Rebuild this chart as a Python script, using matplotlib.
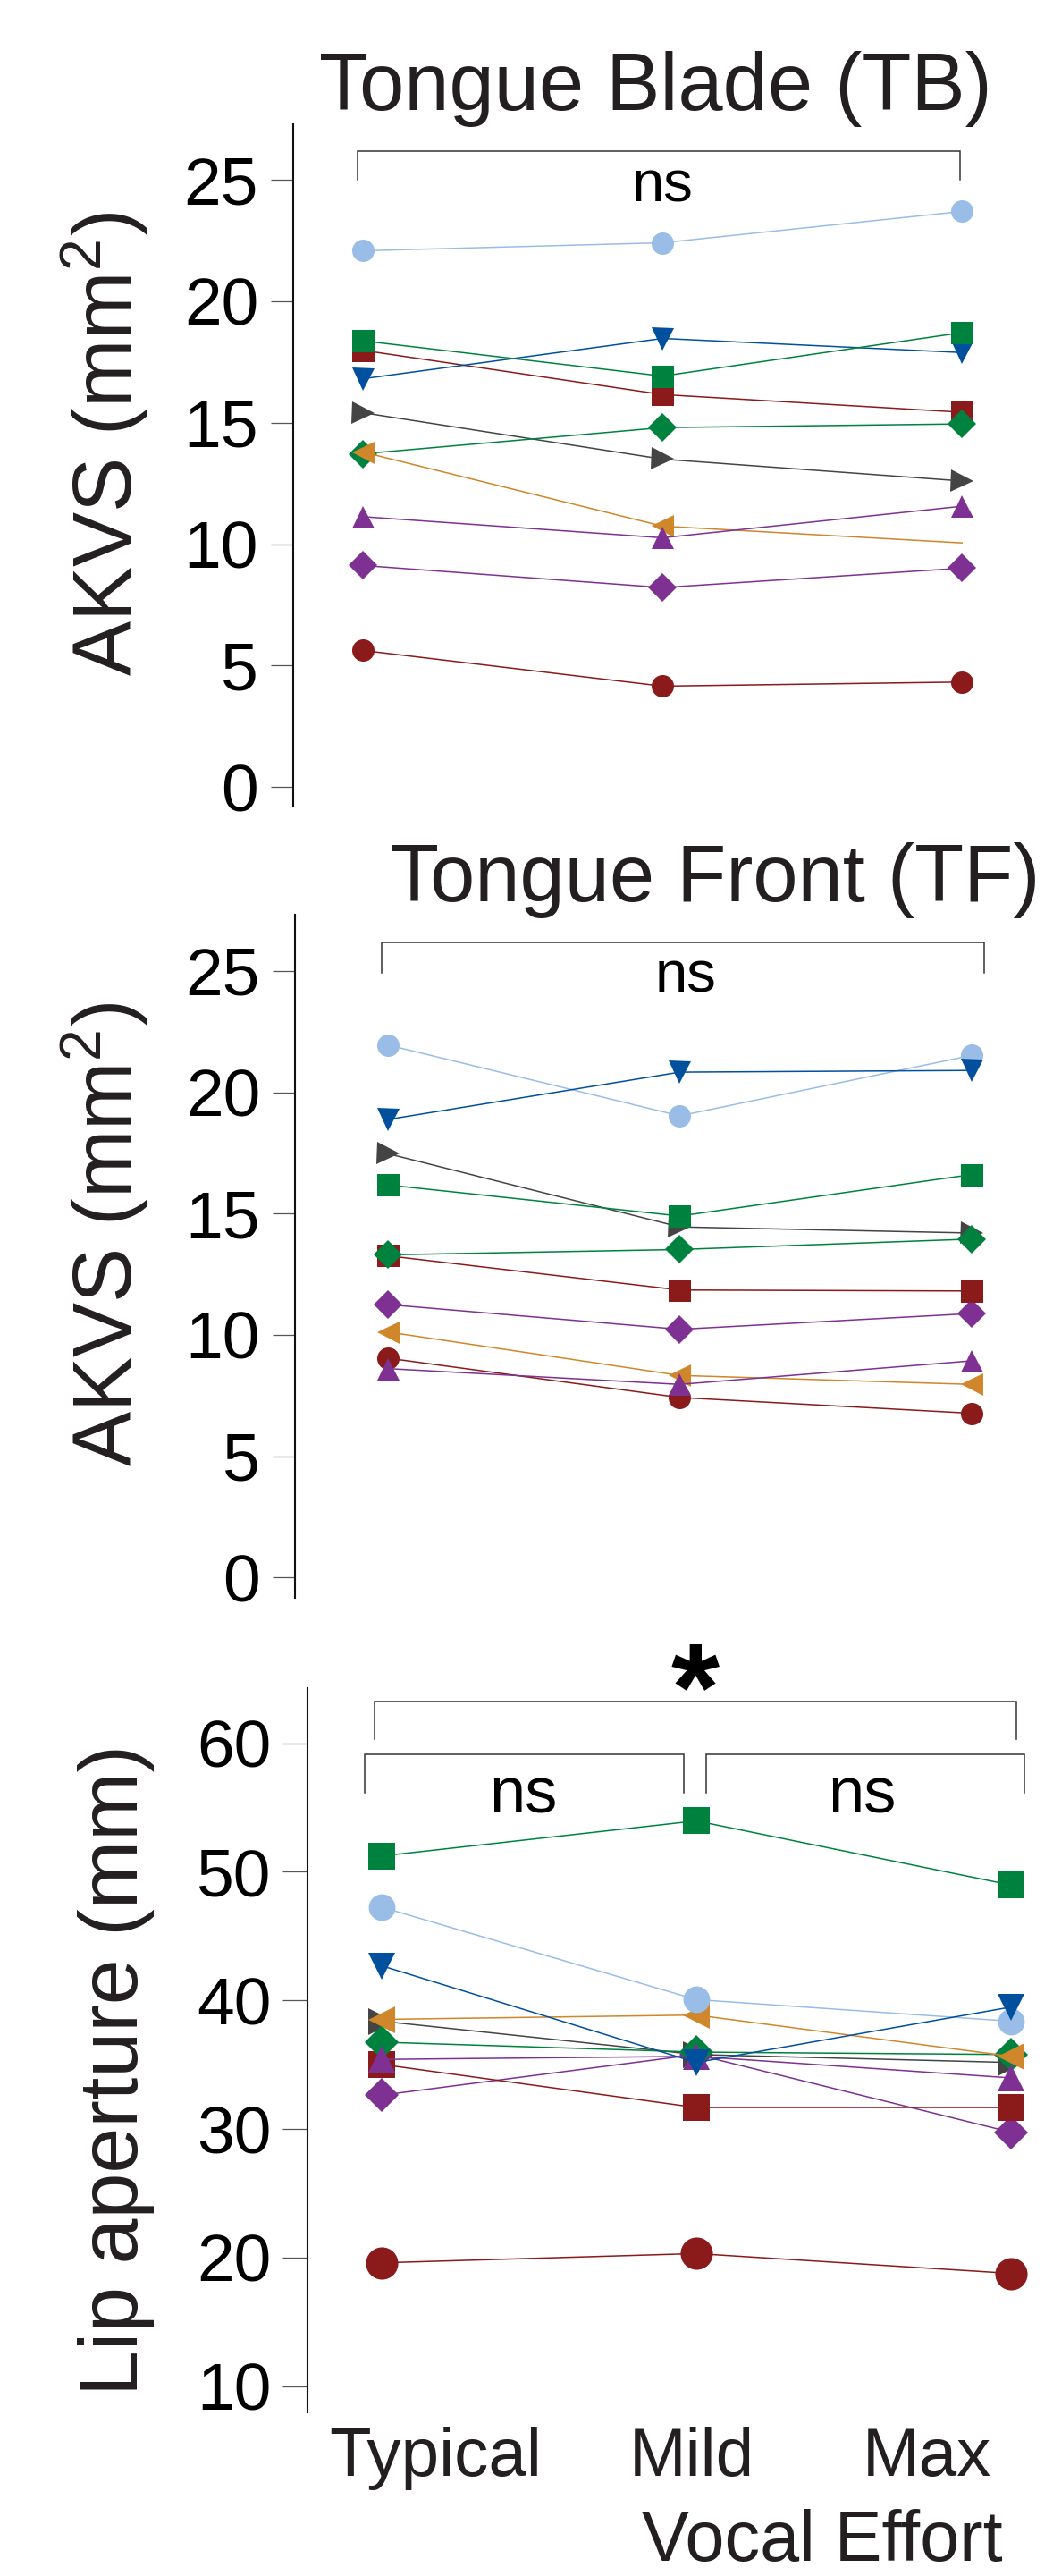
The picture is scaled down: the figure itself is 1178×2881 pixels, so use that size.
import matplotlib
matplotlib.use("Agg")
import matplotlib.pyplot as plt

plt.rcParams['font.family'] = ['Liberation Sans', 'DejaVu Sans']
plt.rcParams['mathtext.fontset'] = 'custom'
plt.rcParams['mathtext.rm'] = 'Liberation Sans'
plt.rcParams['mathtext.it'] = 'Liberation Sans:italic'
plt.rcParams['mathtext.bf'] = 'Liberation Sans:bold'

# ---------------- data ----------------
conditions = ["Typical", "Mild", "Max"]
participants = ["P1", "P2", "P3", "P4", "P5", "P6", "P7", "P8", "P9", "P10"]

tb_P1 = [22.08, 22.41, 23.70]
tb_P2 = [18.37, 16.92, 18.71]
tb_P3 = [16.81, 18.47, 17.89]
tb_P4 = [17.98, 16.16, 15.43]
tb_P5 = [15.41, 13.50, 12.60]
tb_P6 = [13.72, 14.80, 14.95]
tb_P7 = [13.79, 10.74, 10.05]
tb_P8 = [11.13, 10.26, 11.56]
tb_P9 = [9.12, 8.21, 9.01]
tb_P10 = [5.62, 4.15, 4.32]

tf_P1 = [21.95, 19.03, 21.52]
tf_P2 = [16.18, 14.90, 16.61]
tf_P3 = [18.88, 20.83, 20.90]
tf_P4 = [13.26, 11.85, 11.81]
tf_P5 = [17.47, 14.45, 14.20]
tf_P6 = [13.30, 13.52, 13.95]
tf_P7 = [10.12, 8.33, 7.96]
tf_P8 = [8.61, 7.96, 8.93]
tf_P9 = [11.25, 10.23, 10.88]
tf_P10 = [9.04, 7.42, 6.77]

la_P1 = [47.25, 40.06, 38.38]
la_P2 = [51.23, 53.96, 48.97]
la_P3 = [42.69, 35.17, 39.48]
la_P4 = [35.02, 31.67, 31.67]
la_P5 = [38.38, 35.79, 35.17]
la_P6 = [36.75, 35.98, 35.79]
la_P7 = [38.52, 38.86, 35.65]
la_P8 = [35.41, 35.65, 33.97]
la_P9 = [32.63, 35.79, 29.75]
la_P10 = [19.59, 20.31, 18.77]

tb_ticks = [0, 5, 10, 15, 20, 25]
tf_ticks = [0, 5, 10, 15, 20, 25]
la_ticks = [10, 20, 30, 40, 50, 60]

tb = dict(P1=tb_P1, P2=tb_P2, P3=tb_P3, P4=tb_P4, P5=tb_P5, P6=tb_P6,
          P7=tb_P7, P8=tb_P8, P9=tb_P9, P10=tb_P10)
tf = dict(P1=tf_P1, P2=tf_P2, P3=tf_P3, P4=tf_P4, P5=tf_P5, P6=tf_P6,
          P7=tf_P7, P8=tf_P8, P9=tf_P9, P10=tf_P10)
la = dict(P1=la_P1, P2=la_P2, P3=la_P3, P4=la_P4, P5=la_P5, P6=la_P6,
          P7=la_P7, P8=la_P8, P9=la_P9, P10=la_P10)

# ---------------- styles ----------------
LBLUE, GREEN, BLUE, DRED = '#99BDE6', '#00823F', '#00509E', '#8B1A1A'
GRAY, ORANGE, PURPLE = '#444444', '#D0862A', '#7E3192'
style = {
    'P1': (LBLUE, 'o'), 'P2': (GREEN, 's'), 'P3': (BLUE, 'v'),
    'P4': (DRED, 's'), 'P5': (GRAY, '>'), 'P6': (GREEN, 'D'),
    'P7': (ORANGE, '<'), 'P8': (PURPLE, '^'), 'P9': (PURPLE, 'D'),
    'P10': (DRED, 'o'),
}
draw_order = ['P10', 'P9', 'P4', 'P5', 'P6', 'P7', 'P8', 'P1', 'P3', 'P2']

W, H = 1178, 2881
fig = plt.figure(figsize=(W / 100, H / 100), dpi=100)


def rect(left, top, right, bottom):
    return [left / W, 1 - bottom / H, (right - left) / W, (bottom - top) / H]


def fy(py):
    return 1 - py / H


def setup(ax, ticks, ylim, xlim, ticklen, tickpad):
    ax.set_xlim(*xlim)
    ax.set_ylim(*ylim)
    for s in ['top', 'right', 'bottom']:
        ax.spines[s].set_visible(False)
    ax.spines['left'].set_linewidth(1.5)
    ax.spines['left'].set_color('#111111')
    ax.set_yticks(ticks)
    ax.set_yticklabels([str(t) for t in ticks])
    ax.tick_params(axis='y', length=ticklen, width=0.9, color='#555555',
                   labelsize=54, pad=tickpad, labelcolor='black')
    ax.patch.set_alpha(0)


def draw_series(ax, data, ms, dms, ms_over=None, nomark=None):
    x = list(range(len(conditions)))
    for p in draw_order:
        c, m = style[p]
        size = dms if m == 'D' else ms
        if ms_over and p in ms_over:
            size = ms_over[p]
        mk = [0, 1, 2]
        if nomark and p in nomark:
            mk = nomark[p]
        ax.plot(x, data[p], color=c, lw=1.1, marker=m, markersize=size,
                markeredgewidth=0, markevery=mk, clip_on=False)


def bracket(ax, x0, x1, ylow, yhigh, lw=1.1):
    ax.plot([x0, x0, x1, x1], [ylow, yhigh, yhigh, ylow], color='#333333',
            lw=lw, clip_on=False, solid_joinstyle='miter')


# ---------- Panel 1: Tongue Blade ----------
ax1 = fig.add_axes(rect(328, 139, 1178, 902))
setup(ax1, tb_ticks, (-0.807, 27.29), (-0.233, 2.304), 18, 10)
draw_series(ax1, tb, 18, 16.5, nomark={'P7': [0, 1]})
ax1.set_xticks([])
bracket(ax1, -0.018, 1.994, 25.0, 26.2)
ax1.text(1.0, 24.09, 'ns', fontsize=47, ha='center', va='baseline')
fig.text(733 / W, fy(123), 'Tongue Blade (TB)', fontsize=65, ha='center',
         va='baseline', color='#231F20')
fig.text(118 / W, fy(497), r'AKVS (mm$^\mathregular{2}$)', fontsize=66,
         rotation=90, ha='center', va='center', color='#231F20')

# ---------- Panel 2: Tongue Front ----------
ax2 = fig.add_axes(rect(330, 1023, 1178, 1787))
setup(ax2, tf_ticks, (-0.837, 27.32), (-0.3185, 2.279), 18, 10)
draw_series(ax2, tf, 18, 16.5)
ax2.set_xticks([])
bracket(ax2, -0.021, 2.043, 24.93, 26.18)
ax2.text(1.02, 24.13, 'ns', fontsize=47, ha='center', va='baseline')
fig.text(800 / W, fy(1008), 'Tongue Front (TF)', fontsize=65, ha='center',
         va='baseline', color='#231F20')
fig.text(118 / W, fy(1381), r'AKVS (mm$^\mathregular{2}$)', fontsize=66,
         rotation=90, ha='center', va='center', color='#231F20')

# ---------- Panel 3: Lip aperture ----------
ax3 = fig.add_axes(rect(344, 1887.6, 1178, 2697.6))
setup(ax3, la_ticks, (7.99, 64.31), (-0.236, 2.134), 20, 9)
draw_series(ax3, la, 21.5, 19.5, ms_over={'P10': 26})
ax3.set_xticks([0.170, 0.986, 1.733])
ax3.set_xticklabels(conditions)
ax3.tick_params(axis='x', length=0, labelsize=55, pad=12, labelcolor='#231F20')
bracket(ax3, -0.023, 2.017, 60.32, 63.24)
bracket(ax3, -0.054, 0.960, 56.15, 59.14)
bracket(ax3, 1.031, 2.043, 56.15, 59.14)
ax3.text(0.449, 54.58, 'ns', fontsize=52, ha='center', va='baseline')
ax3.text(1.528, 54.58, 'ns', fontsize=52, ha='center', va='baseline')
ax3.text(0.997, 63.6, '*', fontsize=100, fontweight='bold', ha='center',
         va='center')
fig.text(130 / W, fy(2315), 'Lip aperture (mm)', fontsize=66,
         rotation=90, ha='center', va='center', color='#231F20')
fig.text(920 / W, 0.0, 'Vocal Effort', fontsize=57, ha='center',
         va='bottom', color='#231F20')

fig.savefig('out.png', dpi=100)
